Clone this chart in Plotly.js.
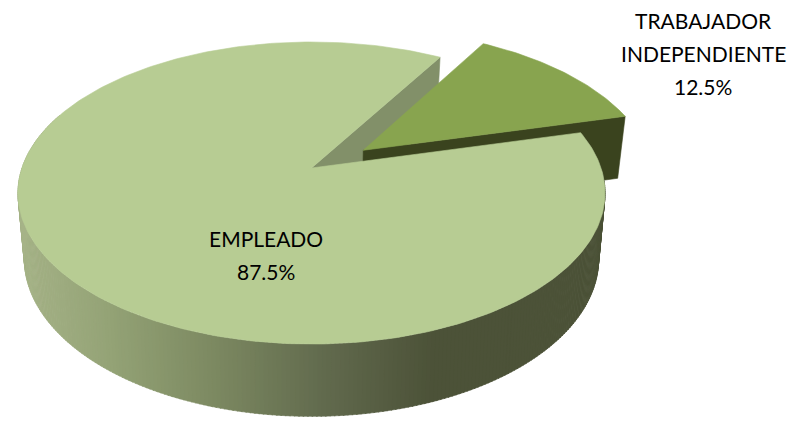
<!DOCTYPE html>
<html><head><meta charset="utf-8">
<script src="https://cdn.plot.ly/plotly-3.0.1.min.js"></script>
<style>html,body{margin:0;padding:0;background:#fff;overflow:hidden}</style>
</head><body><div id="chart" style="width:804px;height:423px"></div>
<script>
const categories = ['EMPLEADO', 'TRABAJADOR INDEPENDIENTE'];
const values = [87.5, 12.5];
const labelLines = [['EMPLEADO'], ['TRABAJADOR', 'INDEPENDIENTE']];
const labelCentersX = [266, 703];
const labelFirstLineY = [238.5, 20];
const sideStopsX = [20, 110, 210, 320, 430, 610];
const sideStopsRGB = [[166,179,136],[148,163,118],[125,138,98],[98,107,78],[76,82,56],[76,82,56]];

const topColor = '#b7cc93', wedgeColor = '#88a44f', wedgeDark = '#3a431e', cutColor = '#829069';
const rotation = 30.5, explode = 0.22, explodeTilt = 3;
const topPlane = {cx:311.5, y0:168, R:289.5, k:146.9, p:0.1656};
const botPlane = {cx:311.5, y0:232, R:283, k:153, p:0.17};

const rad = d => d*Math.PI/180;
function proj(pl,u,v){const w=1-pl.p*v;return [pl.cx+pl.R*u/w, pl.y0+pl.k*v/w];}
function rim(pl,deg,off){off=off||[0,0];return proj(pl,Math.sin(rad(deg))+off[0],-Math.cos(rad(deg))+off[1]);}
function arc(pl,a,b,off){const n=Math.ceil(Math.abs(b-a)),o=[];for(let i=0;i<=n;i++)o.push(rim(pl,a+(b-a)*i/n,off));return o;}
function poly(pts,color){return {type:'scatter',mode:'lines',x:pts.map(p=>p[0]),y:pts.map(p=>p[1]),fill:'toself',fillcolor:color,line:{color:color,width:0.6},hoverinfo:'skip',showlegend:false};}
function sideColor(x){
  for(let i=1;i<sideStopsX.length;i++){ if(x<=sideStopsX[i]){
    const t=Math.max(0,(x-sideStopsX[i-1])/(sideStopsX[i]-sideStopsX[i-1]));
    const c=sideStopsRGB[i-1].map((a,j)=>Math.round(a+(sideStopsRGB[i][j]-a)*t));
    return 'rgb('+c.join(',')+')';}}
  return 'rgb('+sideStopsRGB[sideStopsRGB.length-1].join(',')+')';
}

const total = values.reduce((a,b)=>a+b,0);
const wedgeSpan = values[1]/total*360;
const wedgeStart = rotation, wedgeEnd = rotation+wedgeSpan, wedgeMid = rotation+wedgeSpan/2+explodeTilt;
const off = [explode*Math.sin(rad(wedgeMid)), -explode*Math.cos(rad(wedgeMid))];
const traces = [];

// cut face of the large slice, seen through the gap
const c0 = proj(topPlane,0,0), c1 = rim(topPlane,wedgeStart);
const c0b = proj(botPlane,0,0), c1b = rim(botPlane,wedgeStart);
traces.push(poly([c0,c1,c1b,c0b,c0],cutColor));

// detached slice
const wApex = proj(topPlane,off[0],off[1]), wApexB = proj(botPlane,off[0],off[1]);
const wEnd = rim(topPlane,wedgeEnd,off), wEndB = rim(botPlane,wedgeEnd,off);
traces.push(poly([wApex,wEnd,wEndB,wApexB,wApex],wedgeDark));
traces.push(poly([wApex].concat(arc(topPlane,wedgeStart,wedgeEnd,off),[wApex]),wedgeColor));

// rim of the large slice; past the silhouette turn the shade stays at the leftmost colour
const stripA = wedgeEnd+3, stripB = 292, step = 0.75, silhouetteTurn = 260;
for(let a=stripA;a<stripB;a+=step){
  const b=a+step+0.2;
  const t1=rim(topPlane,a),t2=rim(topPlane,b),b1=rim(botPlane,a),b2=rim(botPlane,b);
  const shadeX = a>=silhouetteTurn ? sideStopsX[0] : (b1[0]+b2[0])/2;
  traces.push(poly([t1,t2,b2,b1,t1],sideColor(shadeX)));
}
// top of the large slice
traces.push(poly([c0].concat(arc(topPlane,wedgeEnd,wedgeStart+360),[c0]),topColor));

const annotations=[];
labelLines.forEach((lines,i)=>{
  lines.concat([(values[i]/total*100).toFixed(1)+'%']).forEach((t,j)=>{
    annotations.push({x:labelCentersX[i],y:labelFirstLineY[i]+j*33,xref:'x',yref:'y',text:t,showarrow:false,xanchor:'center',yanchor:'middle',font:{family:'Lato, sans-serif',size:21,color:'#000'}});
  });
});
Plotly.newPlot('chart',traces,{
  width:804,height:423,margin:{l:0,r:0,t:0,b:0},paper_bgcolor:'#fff',plot_bgcolor:'#fff',showlegend:false,
  xaxis:{range:[0,804],visible:false,fixedrange:true},
  yaxis:{range:[423,0],visible:false,fixedrange:true},
  annotations:annotations,hovermode:false
},{displayModeBar:false,staticPlot:true});
</script></body></html>
